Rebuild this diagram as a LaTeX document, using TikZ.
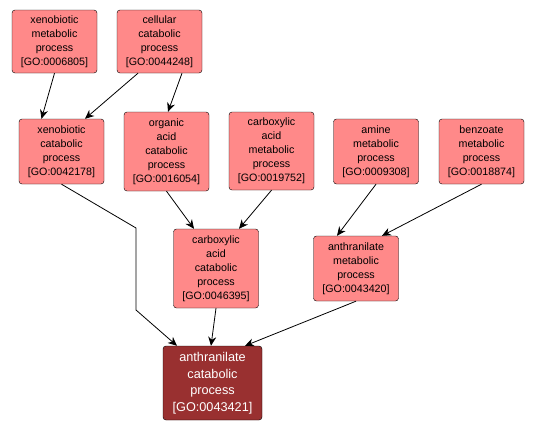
\documentclass[tikz,border=0pt]{standalone}
\usepackage{fontspec}
\setmainfont{Liberation Sans}
\usepackage{xcolor}
\usetikzlibrary{positioning,arrows.meta}
\definecolor{termfill}{RGB}{255,137,137}
\definecolor{focusfill}{RGB}{153,48,48}

\begin{document}
\begin{tikzpicture}[
  x=1pt, y=-1pt,
  term/.style={rectangle, draw, rounded corners=3pt, align=center, minimum width=85pt, inner sep=2pt, fill=termfill, font=\fontsize{10.7}{14}\selectfont},
  focus/.style={term, fill=focusfill, text=white, minimum width=99pt, font=\fontsize{12.7}{16.5}\selectfont},
  arr/.style={-{Stealth[length=9pt,width=8pt]}, line width=0.8pt}
]
\useasboundingbox (0,0) rectangle (538,431);
\node[term, minimum height=63pt] (xenomet) at (54.5,41.5) {xenobiotic\\metabolic\\process\\{[GO:0006805]}};
\node[term, minimum height=63pt] (cellcat) at (159.5,41.5) {cellular\\catabolic\\process\\{[GO:0044248]}};
\node[term, minimum height=65pt] (xenocat) at (61.5,151.5) {xenobiotic\\catabolic\\process\\{[GO:0042178]}};
\node[term, minimum height=79pt] (orgcat) at (166.5,151.5) {organic\\acid\\catabolic\\process\\{[GO:0016054]}};
\node[term, minimum height=78pt] (carbmet) at (271.5,151) {carboxylic\\acid\\metabolic\\process\\{[GO:0019752]}};
\node[term, minimum height=65pt] (aminemet) at (376,151.5) {amine\\metabolic\\process\\{[GO:0009308]}};
\node[term, minimum height=65pt] (benzmet) at (481.5,151.5) {benzoate\\metabolic\\process\\{[GO:0018874]}};
\node[term, minimum height=79pt] (carbcat) at (216,268.5) {carboxylic\\acid\\catabolic\\process\\{[GO:0046395]}};
\node[term, minimum height=65pt] (anthmet) at (356,268.5) {anthranilate\\metabolic\\process\\{[GO:0043420]}};
\node[focus, minimum height=74pt] (anthcat) at (212.5,383) {anthranilate\\catabolic\\process\\{[GO:0043421]}};
\coordinate (bendA) at (136,228);
\coordinate (bendB) at (136,310);
\draw[arr] (xenomet.south) -- ([xshift=-20pt]xenocat.north);
\draw[arr] ([xshift=-21.5pt]cellcat.south) -- ([xshift=23.5pt]xenocat.north);
\draw[arr] ([xshift=22.5pt]cellcat.south) -- ([xshift=1.5pt]orgcat.north);
\draw[arr] (xenocat.south) -- (bendA) -- (bendB) -- ([xshift=-35.5pt]anthcat.north);
\draw[arr] (orgcat.south) -- ([xshift=-22pt]carbcat.north);
\draw[arr] (carbmet.south) -- ([xshift=23pt]carbcat.north);
\draw[arr] (aminemet.south) -- ([xshift=-19pt]anthmet.north);
\draw[arr] (benzmet.south) -- ([xshift=26pt]anthmet.north);
\draw[arr] (carbcat.south) -- ([xshift=-1.5pt]anthcat.north);
\draw[arr] (anthmet.south) -- ([xshift=32.5pt]anthcat.north);
\end{tikzpicture}
\end{document}
